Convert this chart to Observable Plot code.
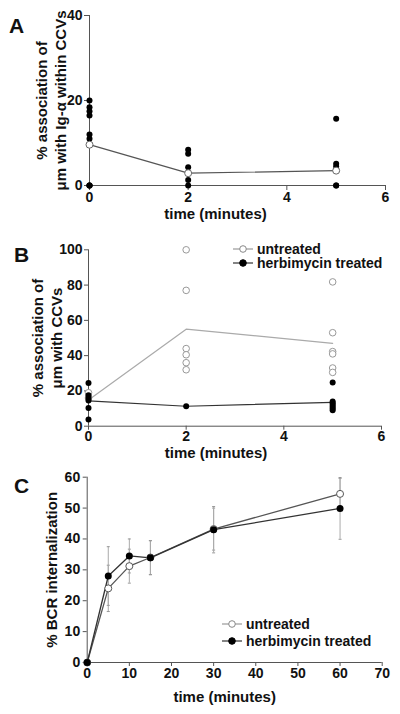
<!DOCTYPE html>
<html>
<head>
<meta charset="utf-8">
<script src="https://cdn.jsdelivr.net/npm/d3@7"></script>
<script src="https://cdn.jsdelivr.net/npm/@observablehq/plot@0.6"></script>
<style>
  body { margin: 0; background: #fff; }
  #wrap { position: relative; width: 400px; height: 714px; overflow: hidden;
          font-family: "Liberation Sans", Arial, sans-serif; font-weight: bold; color: #111; }
  .panel { position: absolute; left: 0; }
  .letter { position: absolute; font-size: 21px; font-weight: bold; }
  .legend { position: absolute; font-size: 14px; font-weight: bold; line-height: 16px; }
  .legend div { display: flex; align-items: center; white-space: nowrap; }
  .legend svg { margin-right: 3px; }
</style>
</head>
<body>
<div id="wrap"></div>
<script>
// ---------- Panel A data ----------
const aTime = [0, 2, 5];
const aMean = [9.6, 2.9, 3.5];
const aPtsTime  = [0, 0, 0, 0, 0, 0, 0, 0, 0, 2, 2, 2, 2, 2, 5, 5, 5, 5, 5];
const aPtsValue = [20, 18.4, 17.5, 16.5, 12, 11, 0, 0, 0, 8.4, 7.5, 4.3, 1.3, 0, 15.7, 5.1, 4.5, 0, 0];
const aXTicks = [0, 2, 4, 6];
const aYTicks = [0, 20, 40];

// ---------- Panel B data ----------
const bTime = [0, 2, 5];
const bUntrMean = [14.8, 55, 47];
const bHerbMean = [14.4, 11.3, 13.5];
const bUntrTime  = [0, 0, 2, 2, 2, 2, 2, 2, 5, 5, 5, 5, 5, 5];
const bUntrValue = [19, 16, 100, 77, 44, 40.5, 36, 32, 81.8, 53, 42.3, 41, 33, 30.5];
const bHerbTime  = [0, 0, 0, 0, 0, 0, 2, 5, 5, 5, 5, 5, 5, 5];
const bHerbValue = [24.5, 17.5, 16, 14.5, 10.3, 3.8, 11.3, 24.8, 14, 13, 12, 11, 10, 9];
const bXTicks = [0, 2, 4, 6];
const bYTicks = [0, 20, 40, 60, 80, 100];

// ---------- Panel C data ----------
const cTime = [0, 5, 10, 15, 30, 60];
const cUntr = [0, 24, 31.2, 34, 43.2, 54.6];
const cUntrErr = [0, 7.5, 5.5, 5.5, 6.8, 5];
const cHerb = [0, 28, 34.5, 33.9, 43, 49.9];
const cHerbErr = [0, 9.5, 5.5, 5.5, 7.5, 10];
const cXTicks = [0, 10, 20, 30, 40, 50, 60, 70];
const cYTicks = [0, 10, 20, 30, 40, 50, 60];

const seriesLabels = ["untreated", "herbimycin treated"];

const FONT = '"Liberation Sans", Arial, sans-serif';
const baseStyle = {fontFamily: FONT, fontSize: "14px", fontWeight: "bold", color: "#111", background: "transparent", overflow: "visible"};
const AXIS = "#555";
const LBL = 15;
const fmt = d3.format("d");

const wrap = document.getElementById("wrap");
function place(el, top) { const d = document.createElement("div"); d.className = "panel"; d.style.top = top + "px"; d.appendChild(el); wrap.appendChild(d); }
function letter(txt, left, top) { const d = document.createElement("div"); d.className = "letter"; d.textContent = txt; d.style.left = left + "px"; d.style.top = top + "px"; wrap.appendChild(d); }
function legend(left, top, gap) {
  const d = document.createElement("div"); d.className = "legend"; d.style.left = left + "px"; d.style.top = top + "px";
  const sym = (fill, stroke, line) => `<svg width="22" height="10"><line x1="1" x2="21" y1="5" y2="5" stroke="${line}" stroke-width="1.2"/><circle cx="11" cy="5" r="3.3" fill="${fill}" stroke="${stroke}" stroke-width="1"/></svg>`;
  d.innerHTML = `<div>${sym("#fff", "#888", "#999")}${seriesLabels[0]}</div><div style="margin-top:${gap}px">${sym("#000", "#000", "#333")}${seriesLabels[1]}</div>`;
  wrap.appendChild(d);
}
const xLabel = (txt, dx, dy) => Plot.text([txt], {frameAnchor: "bottom", lineAnchor: "middle", textAnchor: "middle", dx, dy, fontSize: LBL, fontWeight: "bold"});
const yLabel = (txt, dx) => Plot.text([txt], {frameAnchor: "left", lineAnchor: "middle", textAnchor: "middle", rotate: -90, dx, fontSize: LBL, fontWeight: "bold"});

// ---------- Panel A ----------
const aPts = aPtsTime.map((t, i) => ({t, v: aPtsValue[i]}));
const aMeans = aTime.map((t, i) => ({t, v: aMean[i]}));
place(Plot.plot({
  width: 400, height: 230,
  marginLeft: 89, marginRight: 15, marginTop: 15, marginBottom: 45,
  style: baseStyle,
  x: {domain: [0, 6]}, y: {domain: [0, 40]},
  marks: [
    Plot.axisX({ticks: aXTicks, tickFormat: fmt, tickSize: 5, tickPadding: 2, label: null, stroke: AXIS, fontSize: 14}),
    Plot.axisY({ticks: aYTicks, tickFormat: fmt, tickSize: 5, tickPadding: 2, label: null, stroke: AXIS, fontSize: 14}),
    Plot.ruleX([0], {stroke: AXIS}),
    Plot.ruleY([0], {stroke: AXIS}),
    xLabel("time (minutes)", -22, 29),
    yLabel("% association of", -47),
    yLabel("\u03bcm with Ig-\u03b1 within CCVs", -28),
    Plot.dot(aPts, {x: "t", y: "v", r: 3, fill: "#000"}),
    Plot.line(aMeans, {x: "t", y: "v", stroke: "#555", strokeWidth: 1.2}),
    Plot.dot(aMeans, {x: "t", y: "v", r: 3.5, fill: "#fff", stroke: "#666", strokeWidth: 1})
  ]
}), 0);
letter("A", 9, 14);

// ---------- Panel B ----------
const bU = bUntrTime.map((t, i) => ({t, v: bUntrValue[i]}));
const bH = bHerbTime.map((t, i) => ({t, v: bHerbValue[i]}));
const bUM = bTime.map((t, i) => ({t, v: bUntrMean[i]}));
const bHM = bTime.map((t, i) => ({t, v: bHerbMean[i]}));
place(Plot.plot({
  width: 400, height: 240,
  marginLeft: 88, marginRight: 19, marginTop: 19.3, marginBottom: 44.3,
  style: baseStyle,
  x: {domain: [0, 6]}, y: {domain: [0, 100]},
  marks: [
    Plot.axisX({ticks: bXTicks, tickFormat: fmt, tickSize: 4, tickPadding: 1, label: null, stroke: AXIS, fontSize: 14}),
    Plot.axisY({ticks: bYTicks, tickFormat: fmt, tickSize: 4, tickPadding: 2, label: null, stroke: AXIS, fontSize: 14}),
    Plot.ruleX([0], {stroke: AXIS}),
    Plot.ruleY([0], {stroke: AXIS}),
    xLabel("time (minutes)", -19, 27),
    yLabel("% association of", -50),
    yLabel("\u03bcm with CCVs", -31),
    Plot.line(bUM, {x: "t", y: "v", stroke: "#aaa", strokeWidth: 1.2}),
    Plot.dot(bU, {x: "t", y: "v", r: 3.3, fill: "#fff", stroke: "#999", strokeWidth: 1}),
    Plot.line(bHM, {x: "t", y: "v", stroke: "#333", strokeWidth: 1.2}),
    Plot.dot(bH, {x: "t", y: "v", r: 3, fill: "#000"})
  ]
}), 230);
letter("B", 14, 243);
legend(232, 241, -2);

// ---------- Panel C ----------
const cU = cTime.map((t, i) => ({t, v: cUntr[i], lo: cUntr[i] - cUntrErr[i], hi: cUntr[i] + cUntrErr[i]}));
const cH = cTime.map((t, i) => ({t, v: cHerb[i], lo: cHerb[i] - cHerbErr[i], hi: cHerb[i] + cHerbErr[i]}));
const cap = {draw(ctx, size) { const w = Math.sqrt(size) / 2; ctx.moveTo(-w, 0); ctx.lineTo(w, 0); }};
const errMarks = (data) => [
  Plot.ruleX(data.filter(d => d.hi > d.lo), {x: "t", y1: "lo", y2: "hi", stroke: "#aaa", strokeWidth: 1}),
  Plot.dot(data.filter(d => d.hi > d.lo), {x: "t", y: "lo", symbol: cap, r: 1.7, stroke: "#999", strokeWidth: 1}),
  Plot.dot(data.filter(d => d.hi > d.lo), {x: "t", y: "hi", symbol: cap, r: 1.7, stroke: "#999", strokeWidth: 1})
];
place(Plot.plot({
  width: 400, height: 244,
  marginLeft: 86.7, marginRight: 18.3, marginTop: 6.7, marginBottom: 52,
  style: baseStyle,
  x: {domain: [0, 70]}, y: {domain: [0, 60]},
  marks: [
    Plot.axisX({ticks: cXTicks, tickFormat: fmt, tickSize: 4, tickPadding: 2, label: null, stroke: AXIS, fontSize: 14}),
    Plot.axisY({ticks: cYTicks, tickFormat: fmt, tickSize: 4, tickPadding: 3, label: null, stroke: AXIS, fontSize: 14}),
    Plot.ruleX([0], {stroke: AXIS}),
    Plot.ruleY([0], {stroke: AXIS}),
    xLabel("time (minutes)", -10, 35),
    yLabel("% BCR internalization", -35),
    ...errMarks(cU),
    ...errMarks(cH),
    Plot.line(cU, {x: "t", y: "v", stroke: "#555", strokeWidth: 1.3}),
    Plot.line(cH, {x: "t", y: "v", stroke: "#333", strokeWidth: 1.3}),
    Plot.dot(cU, {x: "t", y: "v", r: 3.5, fill: "#fff", stroke: "#555", strokeWidth: 1}),
    Plot.dot(cH, {x: "t", y: "v", r: 3.5, fill: "#000"})
  ]
}), 470);
letter("C", 14, 474);
legend(221, 616, 1);
</script>
</body>
</html>
